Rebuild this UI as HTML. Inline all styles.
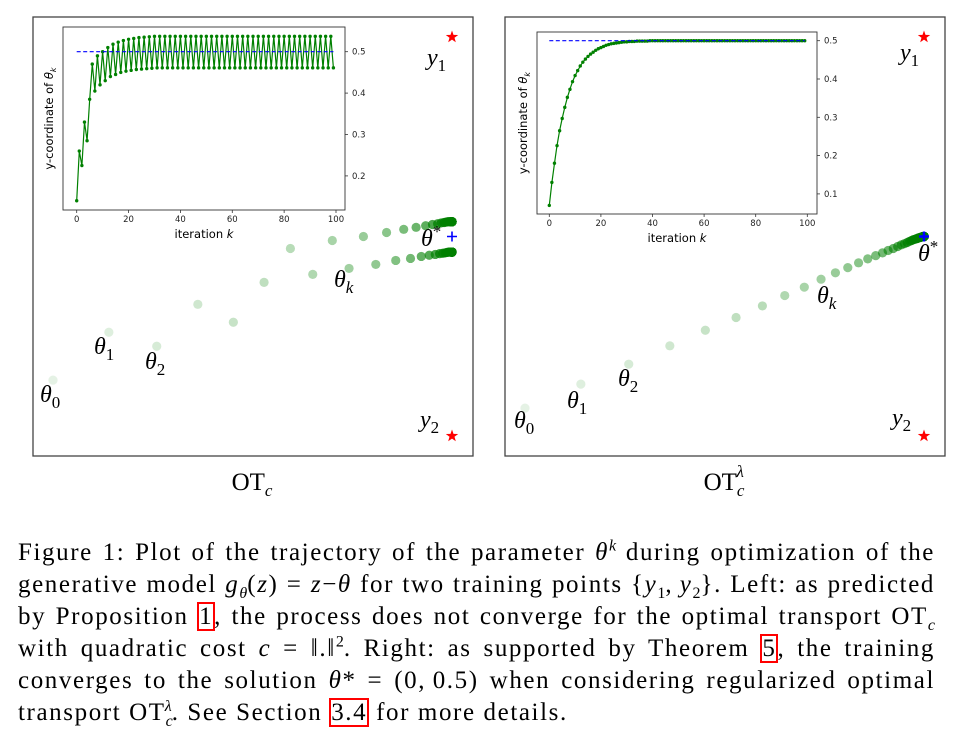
<!DOCTYPE html>
<html><head><meta charset="utf-8">
<style>
body{margin:0;background:#fff;width:959px;height:734px;overflow:hidden;position:relative}
svg{position:absolute;left:0;top:0}
.cap{position:absolute;left:18px;width:917px;font-family:"Liberation Serif",serif;font-size:25px;letter-spacing:1.6px;line-height:32px;height:32px;color:#000;white-space:nowrap}
.j{text-align:justify;text-align-last:justify;white-space:normal;overflow:hidden}
.cap sub,.cap sup{font-size:16px;line-height:0;letter-spacing:0}
.box{outline:2px solid #f00;outline-offset:-1px;padding:0 1px}
i{font-style:italic}
</style></head>
<body>
<svg id="fig" width="959" height="734"></svg>
<div class="cap j" style="top:537px">Figure 1: Plot of the trajectory of the parameter <i>θ</i><sup><i>k</i></sup> during optimization of the</div>
<div class="cap j" style="top:569px">generative model <i>g</i><sub><i>θ</i></sub>(<i>z</i>) = <i>z</i>−<i>θ</i> for two training points {<i>y</i><sub>1</sub>,&#8201;<i>y</i><sub>2</sub>}. Left: as predicted</div>
<div class="cap j" style="top:601px">by Proposition <span class="box">1</span>, the process does not converge for the optimal transport OT<sub><i>c</i></sub></div>
<div class="cap j" style="top:633px">with quadratic cost <i>c</i> = ‖.‖<sup>2</sup>. Right: as supported by Theorem <span class="box">5</span>, the training</div>
<div class="cap j" style="top:665px">converges to the solution <i>θ</i>* = (0,&#8201;0.5) when considering regularized optimal</div>
<div class="cap" style="top:697px">transport OT<sub><i>c</i></sub><sup style="margin-left:-8px"><i>λ</i></sup>. See Section <span class="box">3.4</span> for more details.</div>
<script>
const iterTicks=[0,20,40,60,80,100];
const leftYTicks=[0.2,0.3,0.4,0.5];
const rightYTicks=[0.1,0.2,0.3,0.4,0.5];
const target=0.5;
const thetaStarY=0.5;
const leftY=[0.14,0.26,0.225,0.33,0.285,0.385,0.47,0.405,0.49,0.42,0.50,0.43,0.51,0.44,0.518,0.445,0.523,0.45,0.527,0.453,0.53,0.455,0.532,0.457,0.534,0.458,0.535,0.459,0.536,0.46,
0.537,0.461,0.537,0.461,0.537,0.461,0.537,0.461,0.537,0.461,0.537,0.461,0.537,0.461,0.537,0.461,0.537,0.461,0.537,0.461,
0.537,0.461,0.537,0.461,0.537,0.461,0.537,0.461,0.537,0.461,0.537,0.461,0.537,0.461,0.537,0.461,0.537,0.461,0.537,0.461,
0.537,0.461,0.537,0.461,0.537,0.461,0.537,0.461,0.537,0.461,0.537,0.461,0.537,0.461,0.537,0.461,0.537,0.461,0.537,0.461,
0.537,0.461,0.537,0.461,0.537,0.461,0.537,0.461,0.537,0.461];
const rightY=[0.07,0.13,0.18,0.226,0.265,0.297,0.326,0.352,0.373,0.393,0.409,0.422,0.434,0.444,0.452,0.459,0.465,0.47,0.475,0.479,0.482,0.485,0.488,0.49,0.492,0.493,0.494,0.495,0.496,0.497,
0.497,0.498,0.498,0.498,0.499,0.499,0.499,0.499,0.499,0.5,0.5,0.5,0.5,0.5,0.5,0.5,0.5,0.5,0.5,0.5,
0.5,0.5,0.5,0.5,0.5,0.5,0.5,0.5,0.5,0.5,0.5,0.5,0.5,0.5,0.5,0.5,0.5,0.5,0.5,0.5,
0.5,0.5,0.5,0.5,0.5,0.5,0.5,0.5,0.5,0.5,0.5,0.5,0.5,0.5,0.5,0.5,0.5,0.5,0.5,0.5,
0.5,0.5,0.5,0.5,0.5,0.5,0.5,0.5,0.5,0.5];
const thetaX=[-1.0,-0.86,-0.74,-0.637,-0.548,-0.471,-0.405,-0.349,-0.3,-0.258,-0.222,-0.191,-0.164,-0.141,-0.121,-0.104,-0.09,-0.077,-0.066,-0.057,-0.049,-0.042,-0.036,-0.031,-0.027,-0.023,-0.02,-0.017,-0.015,-0.013,
-0.011,-0.009,-0.008,-0.007,-0.006,-0.005,-0.004,-0.004,-0.003,-0.003,-0.002,-0.002,-0.002,-0.002,-0.002,-0.001,-0.001,-0.001,-0.001,-0.001,
0,0,0,0,0,0,0,0,0,0,0,0,0,0,0,0,0,0,0,0,0,0,0,0,0,0,0,0,0,0,
0,0,0,0,0,0,0,0,0,0,0,0,0,0,0,0,0,0,0,0];
const y1=[0,1], y2=[0,0];

const NS="http://www.w3.org/2000/svg";
const svg=document.getElementById('fig');
function mk(t,a,p){const e=document.createElementNS(NS,t);for(const k in a)e.setAttribute(k,a[k]);(p||svg).appendChild(e);return e;}
function txt(s,a,p){const e=mk('text',a,p);e.textContent=s;return e;}

function star(cx,cy,r,p){let pts=[];for(let i=0;i<10;i++){const rr=i%2?r*0.4:r;const an=-Math.PI/2+i*Math.PI/5;pts.push((cx+rr*Math.cos(an)).toFixed(1)+','+(cy+rr*Math.sin(an)).toFixed(1));}
return mk('polygon',{points:pts.join(' '),fill:'#f00'},p);}

function mathLabel(g,L){
  const t=mk('text',{x:L.x,y:L.y,'font-family':'Liberation Serif, serif','font-size':24,'font-style':'italic',fill:'#000'},g);
  
  
  const a=mk('tspan',{},t);a.textContent=L.base;
  if(L.sub){const b=mk('tspan',{dy:6,'font-size':17,'font-style':/[0-9]/.test(L.sub)?'normal':'italic'},t);b.textContent=L.sub;}
  if(L.sup){const b=mk('tspan',{dy:-9,'font-size':17,'font-style':'normal'},t);b.textContent=L.sup;}
}

function panel(cfg){
  const g=mk('g',{});
  
  
  const fr=mk('rect',{x:cfg.fx,y:17,width:440,height:439,fill:'none',stroke:'#444','stroke-width':1.3},g);
  
  
  const xo=v=>cfg.ox+v*399, yo=v=>436-v*399;
  const n=cfg.ys.length;
  for(let k=n-1;k>=0;k--){
    const c=mk('circle',{cx:xo(thetaX[k]),cy:yo(cfg.ys[k]),r:4.6,fill:'#008000','fill-opacity':Math.min(0.85,0.1+k*0.03)},g);
    
    
  }
  const s1=star(xo(y1[0]),yo(y1[1]),6.5,g);
  
  
  const s2=star(xo(y2[0]),yo(y2[1]),6.5,g);
  
  
  const px=xo(0),py=yo(thetaStarY);
  const pl=mk('path',{d:`M${px-5},${py}H${px+5}M${px},${py-5}V${py+5}`,stroke:'#00f','stroke-width':cfg.plusW},g);
  
  
  cfg.labels.forEach(L=>mathLabel(g,L));
  const tt=mk('text',{x:cfg.tx,y:490,'font-family':'Liberation Serif, serif','font-size':25,fill:'#000','text-anchor':'middle'},g);
  
  
  const a=mk('tspan',{},tt);a.textContent='OT';
  const b=mk('tspan',{dy:6,'font-size':17,'font-style':'italic'},tt);b.textContent='c';
  if(cfg.lambda){const c=mk('tspan',{dx:-8,dy:-19,'font-size':17,'font-style':'italic'},tt);c.textContent='λ';}
  const I=cfg.inset;
  const ig=mk('g',{},g);
  
  
  mk('rect',{x:I.x0,y:I.y0,width:I.x1-I.x0,height:I.y1-I.y0,fill:'#fff'},ig);
  const xi=k=>I.kx0+k*I.kpx, yi=v=>I.v5+(0.5-v)*I.vpx;
  const ys=cfg.ys;
  let d='';ys.forEach((v,k)=>{d+=(k?'L':'M')+xi(k).toFixed(1)+','+yi(v).toFixed(1);});
  const ln=mk('path',{d:d,fill:'none',stroke:'#008000','stroke-width':1.2},ig);
  
  
  ys.forEach((v,k)=>{const c=mk('circle',{cx:xi(k),cy:yi(v),r:1.7,fill:'#008000'},ig);
    
    });
  const tl=mk('line',{x1:xi(0),x2:xi(ys.length-1),y1:yi(target),y2:yi(target),stroke:'#00f','stroke-width':1.1,'stroke-dasharray':'4,2.5'},ig);
  
  
  mk('rect',{x:I.x0,y:I.y0,width:I.x1-I.x0,height:I.y1-I.y0,fill:'none',stroke:'#333','stroke-width':0.9},ig);
  iterTicks.forEach(t=>{mk('line',{x1:xi(t),x2:xi(t),y1:I.y1,y2:I.y1+3,stroke:'#333','stroke-width':0.8},ig);
    const e=txt(String(t),{x:xi(t),y:I.y1+12,'font-family':'DejaVu Sans, sans-serif','font-size':8.5,'text-anchor':'middle',fill:'#222'},ig);
    
    });
  I.yt.forEach(t=>{mk('line',{x1:I.x1,x2:I.x1+3,y1:yi(t),y2:yi(t),stroke:'#333','stroke-width':0.8},ig);
    const e=txt(String(t),{x:I.x1+7,y:yi(t)+3,'font-family':'DejaVu Sans, sans-serif','font-size':8.5,fill:'#222'},ig);
    
    });
  const xl=mk('text',{x:(I.x0+I.x1)/2,y:I.y1+28,'font-family':'DejaVu Sans, sans-serif','font-size':11.5,'text-anchor':'middle',fill:'#000'},ig);
  
  
  mk('tspan',{},xl).textContent='iteration ';
  mk('tspan',{'font-style':'italic'},xl).textContent='k';
  const yc=(I.y0+I.y1)/2;
  const yl=mk('text',{x:I.x0-10,y:yc,'font-family':'DejaVu Sans, sans-serif','font-size':11.5,'text-anchor':'middle',fill:'#000',transform:`rotate(-90 ${I.x0-10} ${yc})`},ig);
  
  
  mk('tspan',{},yl).textContent='y-coordinate of ';
  mk('tspan',{'font-style':'italic'},yl).textContent='θ';
  mk('tspan',{'font-style':'italic','font-size':8,dy:3},yl).textContent='k';
}

panel({name:'left-panel-ot-c',fx:33,ox:452,ys:leftY,tx:252,lambda:false,plusW:1.6,
  labels:[
    {x:40,y:402,base:'θ',sub:'0',name:'theta0-label'},
    {x:94,y:354,base:'θ',sub:'1',name:'theta1-label'},
    {x:145,y:369,base:'θ',sub:'2',name:'theta2-label'},
    {x:334,y:287,base:'θ',sub:'k',name:'thetak-label'},
    {x:421,y:246,base:'θ',sup:'*',name:'theta-star-label'},
    {x:427,y:65,base:'y',sub:'1',name:'y1-label'},
    {x:420,y:427,base:'y',sub:'2',name:'y2-label'}],
  inset:{x0:63,x1:345,y0:27,y1:210,kx0:76.7,kpx:2.593,v5:51.7,vpx:414,yt:leftYTicks}});
panel({name:'right-panel-ot-c-lambda',fx:505,ox:924,ys:rightY,tx:724,lambda:true,plusW:2.5,
  labels:[
    {x:514,y:428,base:'θ',sub:'0',name:'theta0-label'},
    {x:567,y:408,base:'θ',sub:'1',name:'theta1-label'},
    {x:618,y:386,base:'θ',sub:'2',name:'theta2-label'},
    {x:817,y:303,base:'θ',sub:'k',name:'thetak-label'},
    {x:918,y:261,base:'θ',sup:'*',name:'theta-star-label'},
    {x:900,y:60,base:'y',sub:'1',name:'y1-label'},
    {x:892,y:425,base:'y',sub:'2',name:'y2-label'}],
  inset:{x0:537,x1:817,y0:32,y1:214,kx0:549.3,kpx:2.58,v5:40.7,vpx:383,yt:rightYTicks}});
</script>
</body></html>
